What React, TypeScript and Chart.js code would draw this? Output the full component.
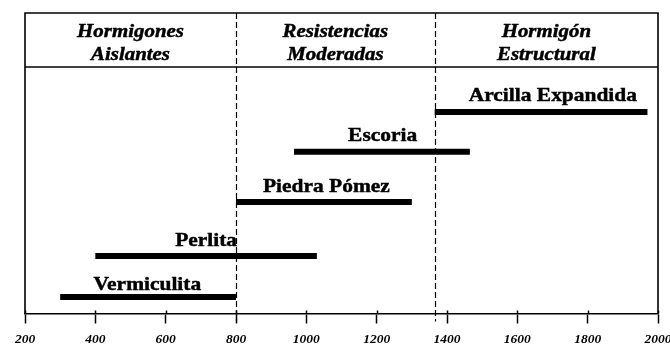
import React, { useEffect, useRef } from "react";
import { Chart, registerables } from "chart.js";

Chart.register(...registerables);

// ---- data ----
const categories = ["Vermiculita", "Perlita", "Piedra Pómez", "Escoria", "Arcilla Expandida"];
const rangeStart = [300, 400, 800, 965, 1365];
const rangeEnd = [800, 1030, 1300, 1465, 1970];
const barLevel = [6.7, 23.3, 45.2, 65.6, 81.7];
const labelX = [548, 715, 1057, 1217, 1701];
const labelLevel = [9.35, 27.2, 49.3, 70.0, 86.3];
const groupTitles = [
  ["Hormigones", "Aislantes"],
  ["Resistencias", "Moderadas"],
  ["Hormigón", "Estructural"],
];
const groupBounds = [200, 800, 1365, 2000];
const xMin = 200;
const xMax = 2000;
const xStep = 200;

function drawStretched(ctx: CanvasRenderingContext2D, text: string, cx: number, y: number, font: string, sx: number) {
  ctx.save();
  ctx.translate(cx, y);
  ctx.scale(sx, 1);
  ctx.font = font;
  ctx.fillStyle = "#000";
  ctx.strokeStyle = "#000";
  ctx.lineWidth = 0.45;
  ctx.textAlign = "center";
  ctx.textBaseline = "alphabetic";
  ctx.fillText(text, 0, 0);
  ctx.strokeText(text, 0, 0);
  ctx.restore();
}

const decorPlugin = {
  id: "decor",
  afterDraw(chart: any) {
    const { ctx, chartArea, scales } = chart;
    const xs = scales.x;
    const ys = scales.y;
    const top = chartArea.top - 54;
    ctx.save();
    ctx.strokeStyle = "#000";
    ctx.lineWidth = 1.6;
    ctx.beginPath();
    ctx.moveTo(chartArea.left, chartArea.bottom);
    ctx.lineTo(chartArea.left, top);
    ctx.lineTo(chartArea.right, top);
    ctx.lineTo(chartArea.right, chartArea.bottom);
    ctx.stroke();
    ctx.beginPath();
    ctx.moveTo(chartArea.left, chartArea.top);
    ctx.lineTo(chartArea.right, chartArea.top);
    ctx.stroke();
    ctx.lineWidth = 1.5;
    for (let v = xMin; v <= xMax; v += xStep) {
      const px = Math.round(xs.getPixelForValue(v)) + 0.5;
      ctx.beginPath();
      ctx.moveTo(px, chartArea.bottom - 3);
      ctx.lineTo(px, chartArea.bottom);
      ctx.stroke();
    }
    ctx.lineWidth = 1.2;
    ctx.setLineDash([6, 3]);
    for (let i = 1; i < groupBounds.length - 1; i++) {
      const px = Math.round(xs.getPixelForValue(groupBounds[i])) + 0.5;
      ctx.beginPath();
      ctx.moveTo(px, top);
      ctx.lineTo(px, chartArea.bottom + 8);
      ctx.stroke();
    }
    ctx.setLineDash([]);
    ctx.restore();

    for (let i = 0; i < groupTitles.length; i++) {
      const cx = (xs.getPixelForValue(groupBounds[i]) + xs.getPixelForValue(groupBounds[i + 1])) / 2;
      drawStretched(ctx, groupTitles[i][0], cx, chartArea.top - 29.7, "bold italic 19px 'Liberation Serif'", 1.1);
      drawStretched(ctx, groupTitles[i][1], cx, chartArea.top - 7.3, "bold italic 19px 'Liberation Serif'", 1.1);
    }
    for (let i = 0; i < categories.length; i++) {
      drawStretched(
        ctx,
        categories[i],
        xs.getPixelForValue(labelX[i]),
        ys.getPixelForValue(labelLevel[i]),
        "bold 19.5px 'Liberation Serif'",
        1.1
      );
    }
  },
};

export default function App() {
  const ref = useRef<HTMLCanvasElement | null>(null);
  useEffect(() => {
    if (!ref.current) return;
    const datasets = categories.map((name, i) => ({
      label: name,
      data: [
        { x: rangeStart[i], y: barLevel[i] },
        { x: rangeEnd[i], y: barLevel[i] },
      ],
      borderColor: "#000",
      backgroundColor: "#000",
      borderWidth: 6,
      borderCapStyle: "butt" as const,
      pointRadius: 0,
      pointHoverRadius: 0,
      fill: false,
    }));
    const chart = new Chart(ref.current, {
      type: "line",
      data: { datasets },
      options: {
        animation: false,
        responsive: true,
        maintainAspectRatio: false,
        layout: { padding: { left: 25, right: 12, top: 67, bottom: -10 } },
        plugins: { legend: { display: false }, tooltip: { enabled: false } },
        scales: {
          x: {
            type: "linear",
            min: xMin,
            max: xMax,
            afterFit(scale: any) {
              scale.paddingLeft = 0;
              scale.paddingRight = 0;
            },
            ticks: {
              stepSize: xStep,
              color: "#000",
              padding: 9,
              callback: (v: any) => String(v),
              font: { family: "'Liberation Serif'", size: 13.5, style: "italic", weight: "bold", lineHeight: 1 },
            },
            grid: {
              drawOnChartArea: false,
              drawTicks: true,
              tickLength: 10,
              tickWidth: 1.5,
              tickColor: "#000",
            },
            border: { display: true, color: "#000", width: 1.6 },
          },
          y: { type: "linear", min: 0, max: 100, display: false },
        },
      },
      plugins: [decorPlugin],
    });
    return () => chart.destroy();
  }, []);
  return (
    <div style={{ position: "absolute", left: 0, top: 0, width: 670, height: 345, background: "#fff" }}>
      <canvas ref={ref} />
    </div>
  );
}
